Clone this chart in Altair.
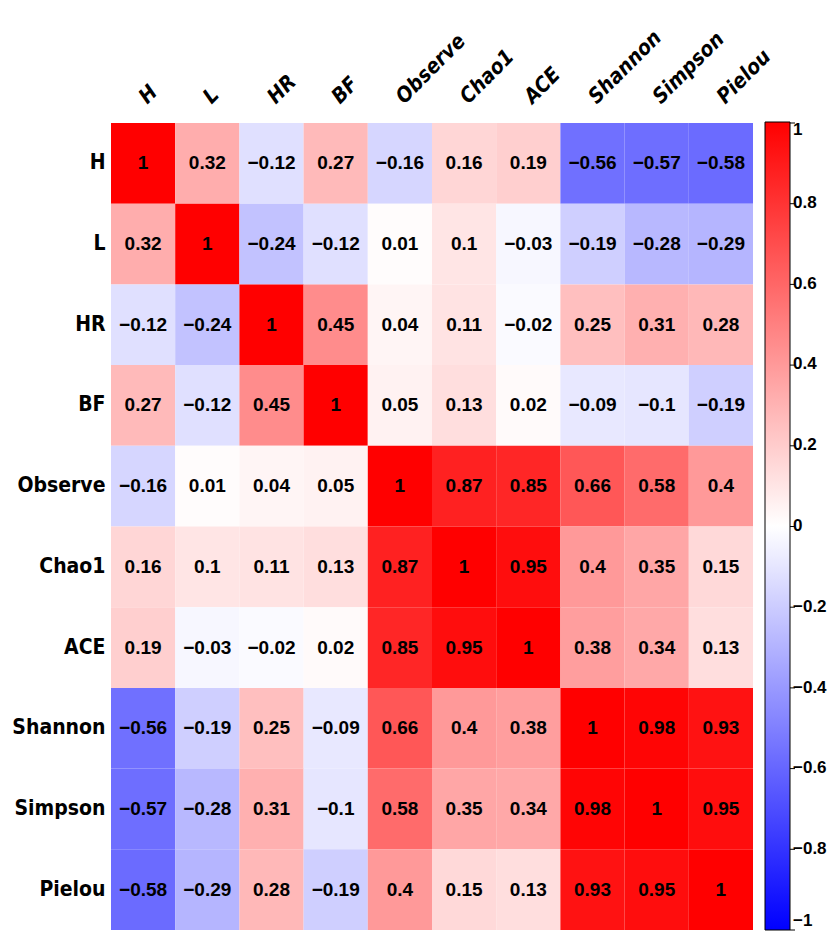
import altair as alt
import pandas as pd

labels = ["H", "L", "HR", "BF", "Observe", "Chao1", "ACE", "Shannon", "Simpson", "Pielou"]
r_H = [1, 0.32, -0.12, 0.27, -0.16, 0.16, 0.19, -0.56, -0.57, -0.58]
r_L = [0.32, 1, -0.24, -0.12, 0.01, 0.1, -0.03, -0.19, -0.28, -0.29]
r_HR = [-0.12, -0.24, 1, 0.45, 0.04, 0.11, -0.02, 0.25, 0.31, 0.28]
r_BF = [0.27, -0.12, 0.45, 1, 0.05, 0.13, 0.02, -0.09, -0.1, -0.19]
r_Observe = [-0.16, 0.01, 0.04, 0.05, 1, 0.87, 0.85, 0.66, 0.58, 0.4]
r_Chao1 = [0.16, 0.1, 0.11, 0.13, 0.87, 1, 0.95, 0.4, 0.35, 0.15]
r_ACE = [0.19, -0.03, -0.02, 0.02, 0.85, 0.95, 1, 0.38, 0.34, 0.13]
r_Shannon = [-0.56, -0.19, 0.25, -0.09, 0.66, 0.4, 0.38, 1, 0.98, 0.93]
r_Simpson = [-0.57, -0.28, 0.31, -0.1, 0.58, 0.35, 0.34, 0.98, 1, 0.95]
r_Pielou = [-0.58, -0.29, 0.28, -0.19, 0.4, 0.15, 0.13, 0.93, 0.95, 1]
rows = [r_H, r_L, r_HR, r_BF, r_Observe, r_Chao1, r_ACE, r_Shannon, r_Simpson, r_Pielou]
bar_ticks = [-1, -0.8, -0.6, -0.4, -0.2, 0, 0.2, 0.4, 0.6, 0.8, 1]


def fmt(v):
    s = f"{v:g}"
    return s.replace("-", "\u2212")


recs = []
for rl, vals in zip(labels, rows):
    for cl, v in zip(labels, vals):
        recs.append({"row": rl, "col": cl, "r": v, "txt": fmt(v)})
df = pd.DataFrame(recs)
tick_df = pd.DataFrame({"t": bar_ticks})

FONT = "DejaVu Sans Condensed, Liberation Sans"
NUMFONT = "Liberation Sans, Arial"
W, H = 642, 807

color = alt.Color(
    "r:Q",
    scale=alt.Scale(domain=[-1, 0, 1], range=["#0000ff", "#ffffff", "#ff0000"], interpolate="rgb"),
    legend=alt.Legend(
        title=None,
        orient="none",
        legendX=654,
        legendY=-1,
        direction="vertical",
        gradientLength=808,
        gradientThickness=25,
        gradientStrokeColor="black",
        gradientStrokeWidth=1,
        values=bar_ticks,
        format=".1~f",
        labelFont=NUMFONT,
        labelFontSize=17,
        labelFontWeight="bold",
        labelColor="black",
        labelOffset=3,
        labelOverlap=False,
    ),
)

x = alt.X(
    "col:N",
    sort=labels,
    title=None,
    scale=alt.Scale(paddingInner=0, paddingOuter=0),
    axis=alt.Axis(
        orient="top",
        labelAngle=315,
        labelAlign="left",
        labelBaseline="middle",
        labelFont=FONT,
        labelFontSize=21,
        labelFontWeight="bold",
        labelFontStyle="italic",
        labelColor="black",
        labelPadding=23,
        ticks=False,
        domain=False,
    ),
)
y = alt.Y(
    "row:N",
    sort=labels,
    title=None,
    scale=alt.Scale(paddingInner=0, paddingOuter=0),
    axis=alt.Axis(
        labelFont=FONT,
        labelFontSize=21,
        labelFontWeight="bold",
        labelColor="black",
        labelPadding=6,
        ticks=False,
        domain=False,
    ),
)

base = alt.Chart(df)
rects = base.mark_rect(strokeWidth=0).encode(x=x, y=y, color=color)
texts = base.mark_text(font=NUMFONT, fontSize=19, fontWeight="bold", color="black").encode(
    x=alt.X("col:N", sort=labels), y=alt.Y("row:N", sort=labels), text="txt:N"
)
ticks = alt.Chart(tick_df).mark_rule(color="black", strokeWidth=1).encode(
    x=alt.value(679),
    x2=alt.value(684),
    y=alt.Y("t:Q", scale=alt.Scale(domain=[-1, 1]), axis=None),
)

chart = (
    alt.layer(alt.layer(rects, texts), ticks)
    .resolve_scale(y="independent")
    .properties(
        width=W,
        height=H,
        autosize=alt.AutoSizeParams(type="none"),
        padding={"left": 103, "top": 115, "right": 74, "bottom": 2},
    )
    .configure_view(stroke=None)
)

chart.save("out.html", embed_options={"renderer": "svg", "actions": False})
